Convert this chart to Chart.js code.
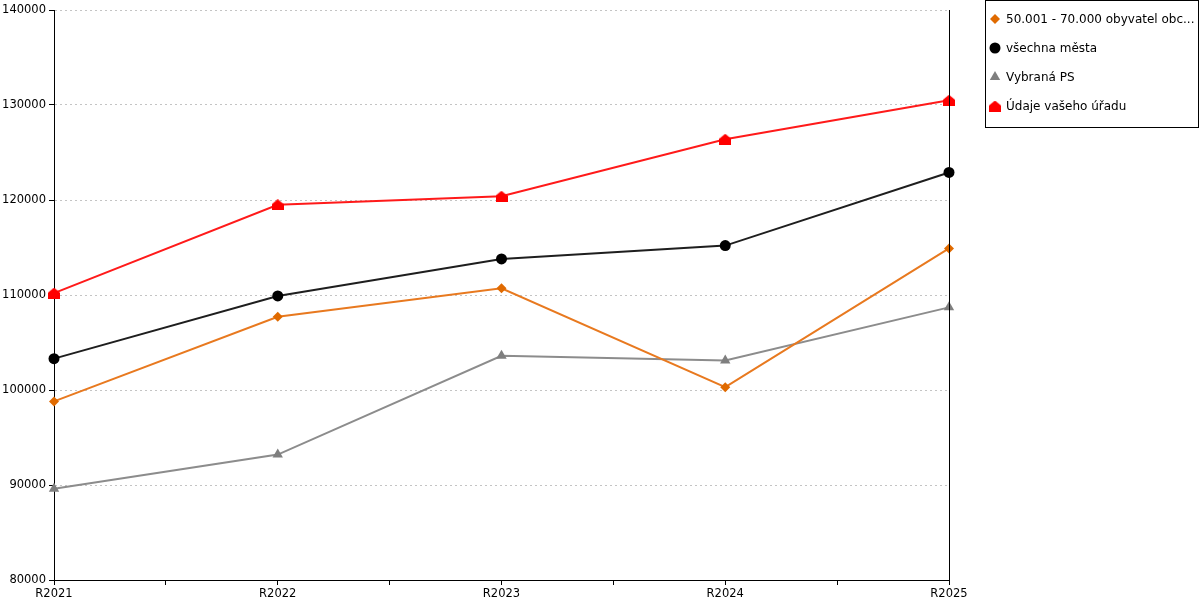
<!DOCTYPE html>
<html>
<head>
<meta charset="utf-8">
<script src="https://cdn.jsdelivr.net/npm/chart.js@4/dist/chart.umd.min.js"></script>
<style>
  body { margin: 0; background: #fff; }
  #wrap { width: 1200px; height: 600px; }
</style>
</head>
<body>
<div id="wrap"><canvas id="lineChart" width="1200" height="600"></canvas></div>
<script>
    // data
    const categories = ['R2021', 'R2022', 'R2023', 'R2024', 'R2025'];
    const obyvatel = [98800, 107700, 110700, 100300, 114900];
    const vsechnaMesta = [103300, 109900, 113800, 115200, 122900];
    const vybranaPS = [89600, 93200, 103600, 103100, 108700];
    const vasUrad = [110200, 119500, 120400, 126400, 130500];
    const yTicks = [80000, 90000, 100000, 110000, 120000, 130000, 140000];

    const toPoints = arr => arr.map((v, i) => ({ x: i, y: v }));

    // "house" marker for the last series
    const house = document.createElement('canvas');
    house.width = 12;
    house.height = 11;
    const hctx = house.getContext('2d');
    hctx.fillStyle = '#ff0000';
    hctx.beginPath();
    hctx.moveTo(6, 0);
    hctx.lineTo(12, 5);
    hctx.lineTo(12, 11);
    hctx.lineTo(0, 11);
    hctx.lineTo(0, 5);
    hctx.closePath();
    hctx.fill();

    const FONT = 'DejaVu Sans';

    // legend in a box on the right, drawn after the chart
    const boxLegend = {
        id: 'boxLegend',
        afterDraw(chart) {
            const ctx = chart.ctx;
            const bx = 985.5, by = 0.5, bw = 213, bh = 127;
            ctx.save();
            ctx.strokeStyle = '#000';
            ctx.lineWidth = 1;
            ctx.strokeRect(bx, by, bw, bh);
            ctx.font = '12px "' + FONT + '"';
            ctx.textBaseline = 'middle';
            chart.data.datasets.forEach((ds, i) => {
                const y = 19 + i * 29;
                ctx.fillStyle = ds.pointBackgroundColor;
                ctx.strokeStyle = ds.pointBackgroundColor;
                Chart.helpers.drawPoint(ctx, {
                    pointStyle: ds.pointStyle,
                    radius: ds.pointRadius,
                    rotation: 0,
                    borderWidth: 0
                }, 995, y);
                ctx.fillStyle = '#000';
                ctx.fillText(ds.label, 1006, y + 0.5);
            });
            // right-hand frame line of the plot
            const a = chart.chartArea;
            ctx.strokeStyle = '#000';
            ctx.lineWidth = 1;
            ctx.beginPath();
            ctx.moveTo(Math.round(a.right) + 0.5, a.top);
            ctx.lineTo(Math.round(a.right) + 0.5, a.bottom);
            ctx.stroke();
            ctx.restore();
        }
    };

    const ctx = document.getElementById('lineChart').getContext('2d');
    new Chart(ctx, {
        type: 'line',
        data: {
            datasets: [
                {
                    label: '50.001 - 70.000 obyvatel obc...',
                    data: toPoints(obyvatel),
                    borderColor: '#e8791f',
                    pointBackgroundColor: '#e06a00',
                    pointBorderWidth: 0,
                    pointStyle: 'rectRot',
                    pointRadius: 5,
                    borderWidth: 2,
                    clip: false
                },
                {
                    label: 'všechna města',
                    data: toPoints(vsechnaMesta),
                    borderColor: '#1e1e1e',
                    pointBackgroundColor: '#000000',
                    pointBorderWidth: 0,
                    pointStyle: 'circle',
                    pointRadius: 5.5,
                    borderWidth: 2,
                    clip: false
                },
                {
                    label: 'Vybraná PS',
                    data: toPoints(vybranaPS),
                    borderColor: '#8c8c8c',
                    pointBackgroundColor: '#7f7f7f',
                    pointBorderWidth: 0,
                    pointStyle: 'triangle',
                    pointRadius: 6,
                    borderWidth: 2,
                    clip: false
                },
                {
                    label: 'Údaje vašeho úřadu',
                    data: toPoints(vasUrad),
                    borderColor: '#ff1a1a',
                    pointBackgroundColor: '#ff0000',
                    pointBorderWidth: 0,
                    pointStyle: house,
                    pointRadius: 6,
                    borderWidth: 2,
                    clip: false
                }
            ]
        },
        options: {
            responsive: false,
            animation: false,
            devicePixelRatio: 1,
            layout: { padding: { top: 10, right: 251, left: 0, bottom: 0 } },
            plugins: {
                legend: { display: false },
                tooltip: { enabled: false }
            },
            elements: { line: { tension: 0 } },
            scales: {
                x: {
                    type: 'linear',
                    min: 0,
                    max: categories.length - 1,
                    afterBuildTicks: scale => {
                        const t = [];
                        for (let v = 0; v <= categories.length - 1; v += 0.5) t.push({ value: v });
                        scale.ticks = t;
                    },
                    afterFit: scale => { scale.height = 20; },
                    ticks: {
                        autoSkip: false,
                        maxRotation: 0,
                        padding: 2,
                        color: '#000',
                        font: { family: FONT, size: 11.5 },
                        callback: v => Number.isInteger(v) ? categories[v] : ''
                    },
                    grid: { drawOnChartArea: false, drawTicks: true, tickLength: 5, tickColor: '#000' },
                    border: { color: '#000', width: 1 }
                },
                y: {
                    min: yTicks[0],
                    max: yTicks[yTicks.length - 1],
                    afterBuildTicks: scale => { scale.ticks = yTicks.map(v => ({ value: v })); },
                    afterFit: scale => { scale.width = 54; },
                    ticks: {
                        padding: 3,
                        color: '#000',
                        font: { family: FONT, size: 11.5 },
                        callback: v => String(v)
                    },
                    grid: { color: '#c4c4c4', drawTicks: true, tickLength: 5, tickColor: '#000' },
                    border: { color: '#000', width: 1, dash: [2, 3] }
                }
            }
        },
        plugins: [boxLegend]
    });
</script>
</body>
</html>
